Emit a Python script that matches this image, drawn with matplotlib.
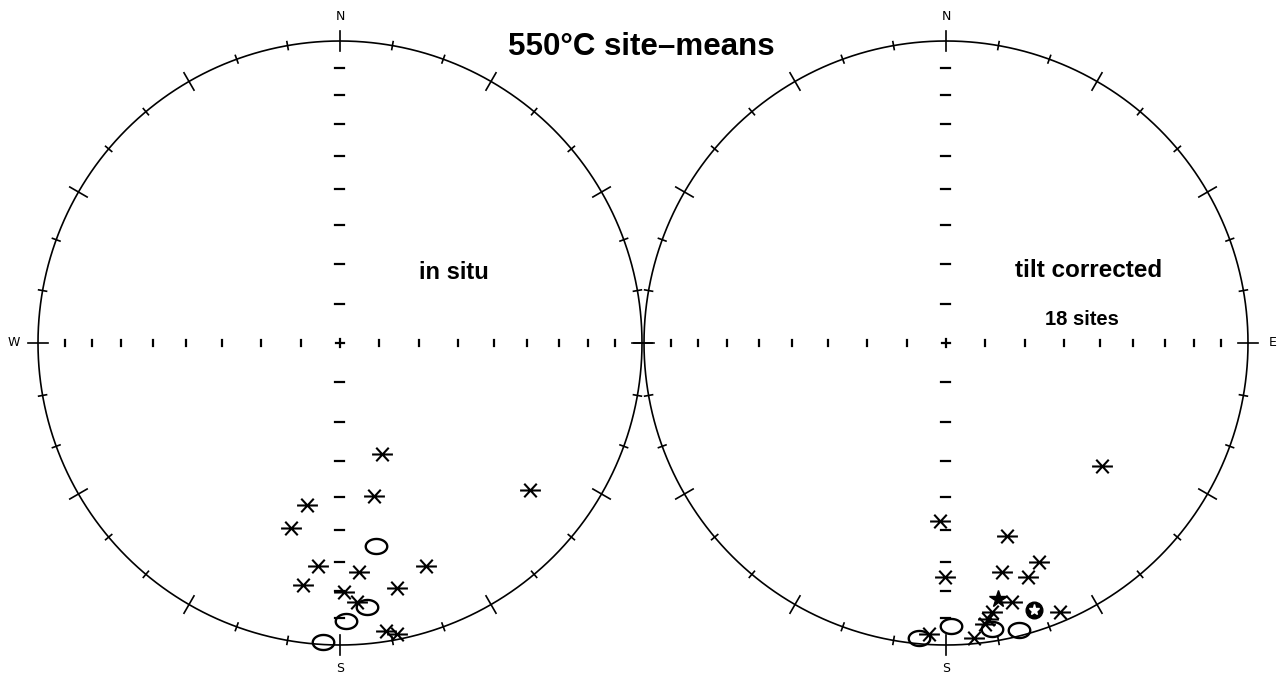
import numpy as np
import matplotlib
matplotlib.use("Agg")
import matplotlib.pyplot as plt
from matplotlib.path import Path

# site-mean directions (declination, inclination in degrees)
insitu_down_dec = [159.3, 167.4, 191.5, 194.8, 127.8, 185.6, 175.2, 158.9, 188.7, 166.9, 179.1, 176.3, 170.9, 168.9]
insitu_down_inc = [57.7, 46.9, 44.5, 36.7, 21.6, 26.7, 24.9, 22.0, 20.1, 17.8, 18.6, 15.1, 3.8, 2.1]
insitu_up_dec = [170.0, 174.2, 178.8, 183.2]
insitu_up_inc = [-32.2, -13.2, -8.8, -1.0]

tilt_down_dec = [128.2, 181.9, 162.5, 157.0, 180.2, 166.3, 160.7, 165.7, 157.1, 170.3, 171.4, 172.1, 183.3, 174.6]
tilt_down_inc = [34.6, 40.7, 33.4, 22.3, 23.6, 23.0, 19.0, 12.5, 3.7, 10.6, 8.4, 6.8, 3.9, 2.2]
tilt_up_dec = [170.9, 165.7, 179.0, 185.2]
tilt_up_inc = [-4.6, -2.2, -7.0, -2.2]

mean_dec, mean_inc = 168.5, 14.6
mean2_dec, mean2_inc = 161.8, 7.6

# radial positions of the 80..10 deg inclination ticks
axis_tick_frac = [0.13, 0.26, 0.39, 0.51, 0.62, 0.725, 0.82, 0.91]

W, H = 1288, 677
R = 302
CY = 343


def project(dec, inc, cx):
    dec = np.radians(np.asarray(dec, dtype=float))
    inc = np.abs(np.asarray(inc, dtype=float))
    r = R * np.sqrt(2) * np.sin(np.radians(90 - inc) / 2)
    return cx + r * np.sin(dec), CY - r * np.cos(dec)


def draw_net(ax, cx):
    t = np.linspace(0, 2 * np.pi, 721)
    ax.plot(cx + R * np.cos(t), CY + R * np.sin(t), color="black", lw=1.2)
    for az in range(0, 360, 10):
        a = np.radians(az)
        half = 10 if az % 30 == 0 else 4
        dx, dy = np.sin(a), -np.cos(a)
        ax.plot([cx + (R - half) * dx, cx + (R + half) * dx],
                [CY + (R - half) * dy, CY + (R + half) * dy], color="black", lw=1.2)
    for f in axis_tick_frac:
        r = R * f
        for s in (-1, 1):
            ax.plot([cx - 4.5, cx + 4.5], [CY + s * r, CY + s * r], color="black", lw=1.6)
            ax.plot([cx + s * r, cx + s * r], [CY - 3, CY + 3], color="black", lw=1.6)
    ax.plot([cx - 4, cx + 4], [CY, CY], color="black", lw=1.6)
    ax.plot([cx, cx], [CY - 4, CY + 4], color="black", lw=1.6)
    ax.text(cx, 17, "N", ha="center", va="center", fontsize=9, family="DejaVu Sans")
    ax.text(cx, 669, "S", ha="center", va="center", fontsize=9, family="DejaVu Sans")


star = Path([(-1, 0), (1, 0), (-0.6, -0.65), (0.6, 0.65), (-0.6, 0.65), (0.6, -0.65)],
            [Path.MOVETO, Path.LINETO, Path.MOVETO, Path.LINETO, Path.MOVETO, Path.LINETO])
th = np.linspace(0, 2 * np.pi, 41)
oval = Path(np.column_stack([np.cos(th), 0.7 * np.sin(th)]), closed=True)

fig = plt.figure(figsize=(W / 100, H / 100), dpi=100)
ax = fig.add_axes([0, 0, 1, 1])
ax.set_xlim(0, W)
ax.set_ylim(H, 0)
ax.axis("off")

left_cx, right_cx = 340, 946
draw_net(ax, left_cx)
draw_net(ax, right_cx)
ax.text(14, CY, "W", ha="center", va="center", fontsize=9, family="DejaVu Sans")
ax.text(1273, CY, "E", ha="center", va="center", fontsize=9, family="DejaVu Sans")

for cx, ddec, dinc, udec, uinc in [(left_cx, insitu_down_dec, insitu_down_inc, insitu_up_dec, insitu_up_inc),
                                   (right_cx, tilt_down_dec, tilt_down_inc, tilt_up_dec, tilt_up_inc)]:
    x, y = project(ddec, dinc, cx)
    ax.plot(x, y, ls="none", marker=star, ms=15, mew=1.5, color="black")
    x, y = project(udec, uinc, cx)
    ax.plot(x, y, ls="none", marker=oval, ms=15.5, mew=1.7, mfc="none", color="black")

x, y = project([mean_dec], [mean_inc], right_cx)
ax.plot(x, y, ls="none", marker="*", ms=13, color="black")
x, y = project([mean2_dec], [mean2_inc], right_cx)
ax.plot(x, y, ls="none", marker="o", ms=12, color="black")
ax.plot(x, y, ls="none", marker="*", ms=8, color="white")

ax.text(641, 55, "550°C site\u2013means", ha="center", va="baseline", fontsize=22.5,
        fontweight="bold", family="Liberation Sans")
ax.text(419, 279, "in situ", ha="left", va="baseline", fontsize=17, fontweight="bold",
        family="Liberation Sans")
ax.text(1015, 277, "tilt corrected", ha="left", va="baseline", fontsize=17.5, fontweight="bold",
        family="Liberation Sans")
ax.text(1045, 325, "18 sites", ha="left", va="baseline", fontsize=14.5, fontweight="bold",
        family="Liberation Sans")

fig.savefig("out.png", dpi=100)
